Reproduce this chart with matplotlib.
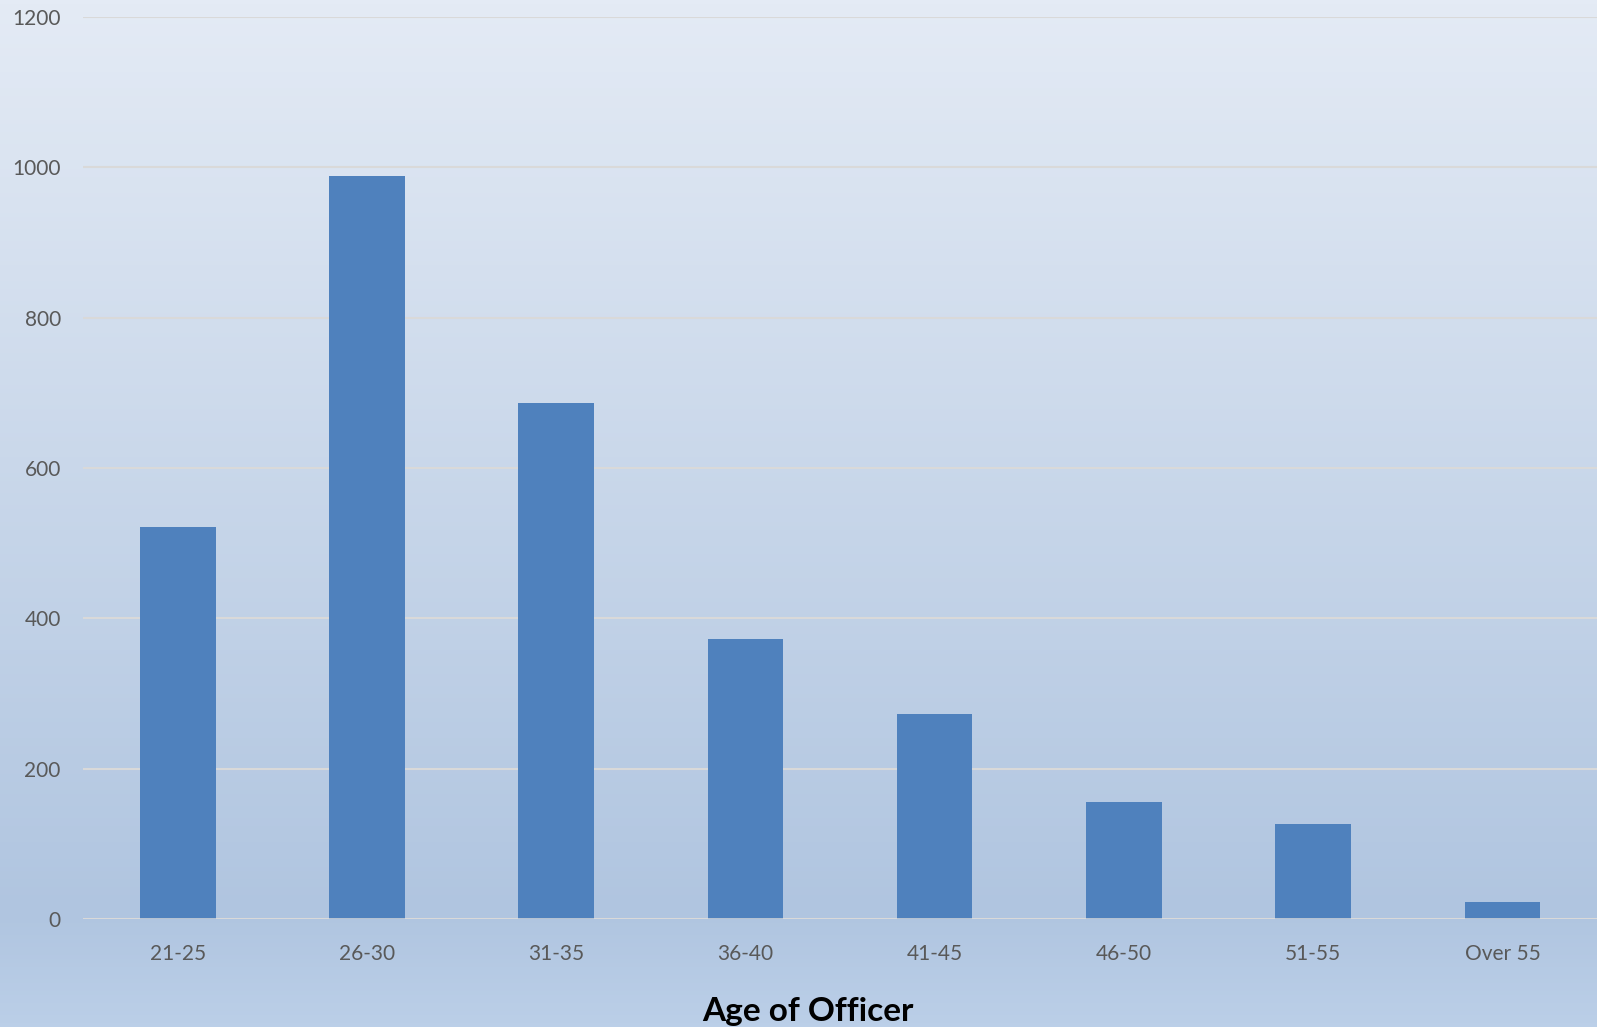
import numpy as np
import matplotlib
matplotlib.use("Agg")
import matplotlib.pyplot as plt
from matplotlib.colors import LinearSegmentedColormap

# data
age_groups = ["21-25", "26-30", "31-35", "36-40", "41-45", "46-50", "51-55", "Over 55"]
officers = [522, 989, 687, 372, 273, 155, 127, 23]
y_ticks = [0, 200, 400, 600, 800, 1000, 1200]

plt.rcParams['font.family'] = ['Lato', 'DejaVu Sans']

fig = plt.figure(figsize=(15.97, 10.27), dpi=100)

# vertical gradient background (light at top, darker blue lower down)
bg = fig.add_axes([0, 0, 1, 1], zorder=-1)
grad_cmap = LinearSegmentedColormap.from_list(
    "bg", [(0.0, "#bbcfe8"), (0.11, "#b0c5e0"), (1.0, "#e4ebf5")])
grad = np.linspace(0, 1, 256).reshape(-1, 1)
bg.imshow(grad, aspect="auto", cmap=grad_cmap, origin="lower", extent=[0, 1, 0, 1])
bg.axis("off")

ax = fig.add_axes([0.052, 0.1052, 0.948, 0.8782])
ax.set_facecolor("none")

x = np.arange(len(age_groups))
ax.bar(x, officers, width=0.4, color="#4f81bd", zorder=3)

ax.set_xlim(-0.5, 7.5)
ax.set_ylim(0, 1200)
ax.set_yticks(y_ticks)
ax.set_xticks(x)
ax.set_xticklabels(age_groups)

ax.grid(axis='y', color="#d9d9d9", linewidth=1.5, zorder=0)
ax.axhline(0, color="#d9d9d9", linewidth=1.8, zorder=4)
for s in ax.spines.values():
    s.set_visible(False)
ax.tick_params(axis='both', length=0, labelsize=15, colors="#595959")
ax.tick_params(axis='y', pad=16)
ax.tick_params(axis='x', pad=18)

fig.text(0.506, 0.006, "Age of Officer", ha="center", va="baseline",
         fontsize=24, fontweight="bold", color="black")

plt.savefig("out.png", dpi=100)
